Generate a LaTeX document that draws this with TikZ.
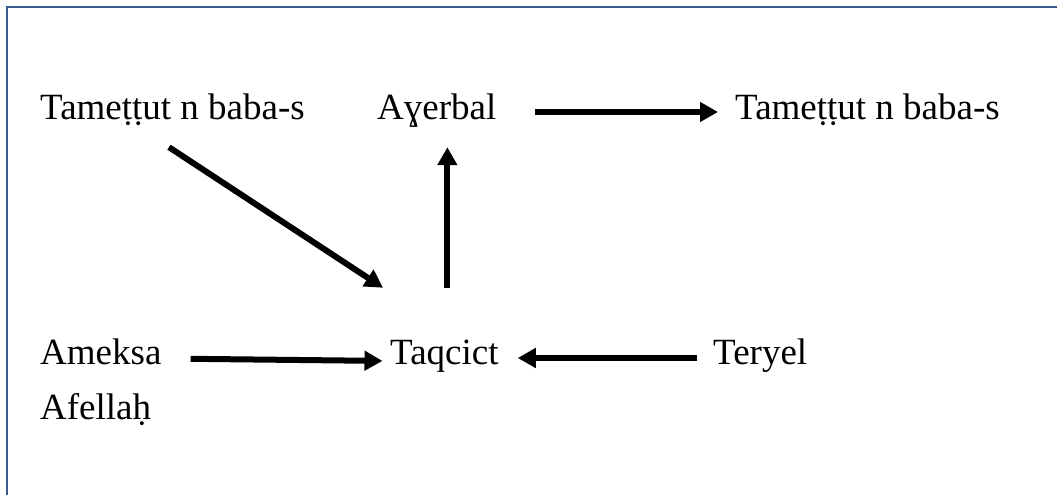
\documentclass[tikz,border=0pt]{standalone}
\usepackage{fontspec}
\setmainfont{Liberation Serif}
\usepackage{tikz}
\usetikzlibrary{calc,arrows.meta}
\usetikzlibrary{positioning}
\definecolor{frameblue}{RGB}{56,93,138}
\tikzset{word/.style={anchor=base west, inner sep=0pt, text height=24pt, text depth=8pt, font=\fontsize{37}{44}\selectfont},
bigarrow/.style={line width=6pt, -{Triangle[length=18pt,width=19pt]}},
frameline/.style={draw=frameblue, line width=2pt}}

\begin{document}
\begin{tikzpicture}[x=1pt, y=1pt]
\useasboundingbox (0,0) rectangle (1057,495);
\draw[frameline] (6.5,0) -- (6.5,487.5) -- (1057,487.5);

%words
\foreach \n/\x/\y/\t in {tamA/40/375/Tameṭṭut n baba-s, ayerbal/377/375/Aɣerbal, tamB/735/375/Tameṭṭut n baba-s,
ameksa/40/130/Ameksa, taqcict/390/130/Taqcict, teryel/713/130/Teryel, afellah/40/75/Afellaḥ}
{\node[word] (\n) at (\x,\y) {\t};}

%arrows
\draw[bigarrow, shorten <=38pt, shorten >=17pt] ([yshift=8pt]ayerbal.base east) -- ([yshift=8pt]tamB.base west);
\draw[bigarrow, shorten <=53pt, shorten >=19pt] ([xshift=3pt]taqcict.north) -- ([xshift=3pt]taqcict.north |- ayerbal.south);
\draw[bigarrow] ([shift={(-3.5,-19)}]tamA.south) -- ([shift={(-7,53)}]taqcict.north west);
\draw[bigarrow, shorten <=29pt, shorten >=7.5pt] ([yshift=6.5pt]ameksa.base east) -- ([yshift=4pt]taqcict.base west);
\draw[bigarrow, shorten <=16pt, shorten >=19pt] ([yshift=7pt]teryel.base west) -- ([yshift=7pt]taqcict.base east);
\end{tikzpicture}
\end{document}
